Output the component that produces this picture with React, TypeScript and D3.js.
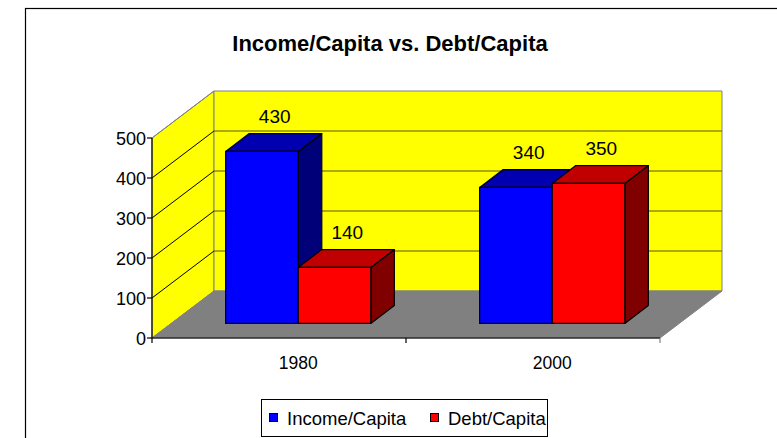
import React from "react";
import * as d3 from "d3";

const categories = ["1980", "2000"];
const seriesNames = ["Income/Capita", "Debt/Capita"];
const incomeValues = [430, 340];
const debtValues = [140, 350];
const yTicks = [0, 100, 200, 300, 400, 500];
const title = "Income/Capita vs. Debt/Capita";

const W = 777;
const H = 438;

export default function App() {
  const series = [incomeValues, debtValues];
  const faceColors = [
    { front: "#0000FF", top: "#0000B0", side: "#000078" },
    { front: "#FF0000", top: "#C00000", side: "#800000" },
  ];

  // front plane
  const x0 = 152, x1 = 660;
  const yBase = 338;
  const depth = { dx: 62, dy: -47 };
  const x = d3.scaleBand<string>().domain(categories).range([x0, x1]).paddingInner(0).paddingOuter(0);
  const xs = d3.scaleBand<string>().domain(seriesNames).range([0, x.bandwidth()]).paddingInner(0).paddingOuter(0.75);
  const y = d3.scaleLinear().domain([0, 500]).range([yBase, yBase - 200]);
  const zFront = 0.31, zBack = 0.69;
  const P = (px: number, py: number, z: number): [number, number] => [px + z * depth.dx, py + z * depth.dy];
  const pts = (arr: [number, number][]) => arr.map((p) => p.join(",")).join(" ");

  const yTop = y(500);
  const sideWall = pts([P(x0, yBase, 0), P(x0, yTop, 0), P(x0, yTop, 1), P(x0, yBase, 1)]);
  const backWall = pts([P(x0, yTop, 1), P(x1, yTop, 1), P(x1, yBase, 1), P(x0, yBase, 1)]);
  const floor = pts([P(x0, yBase, 0), P(x1, yBase, 0), P(x1, yBase, 1), P(x0, yBase, 1)]);

  const bars: React.ReactNode[] = [];
  const labels: React.ReactNode[] = [];
  categories.forEach((c, ci) => {
    seriesNames.forEach((s, si) => {
      const v = series[si][ci];
      const l = (x(c) as number) + (xs(s) as number);
      const r = l + xs.bandwidth();
      const t = y(v);
      const b = y(0);
      const col = faceColors[si];
      const front = pts([P(l, t, zFront), P(r, t, zFront), P(r, b, zFront), P(l, b, zFront)]);
      const top = pts([P(l, t, zFront), P(r, t, zFront), P(r, t, zBack), P(l, t, zBack)]);
      const side = pts([P(r, t, zFront), P(r, t, zBack), P(r, b, zBack), P(r, b, zFront)]);
      bars.push(
        <g key={c + s} stroke="#000" strokeWidth={1.2} strokeLinejoin="round">
          <polygon points={side} fill={col.side} />
          <polygon points={top} fill={col.top} />
          <polygon points={front} fill={col.front} />
        </g>
      );
      const [lx, ly] = P((l + r) / 2, t, (zFront + zBack) / 2);
      labels.push(
        <text key={"l" + c + s} x={lx + 1} y={ly - 20} textAnchor="middle" fontSize={19}>
          {v}
        </text>
      );
    });
  });

  return (
    <svg width={W} height={H} style={{ position: "absolute", left: 0, top: 0, fontFamily: "'Liberation Sans', Arial, sans-serif" }}>
      <rect x={0} y={0} width={W} height={H} fill="#fff" />
      <rect x={25.5} y={8.5} width={900} height={600} fill="#fff" stroke="#000" strokeWidth={1.2} />
      <text x={390} y={51} textAnchor="middle" fontSize={22} fontWeight="bold">
        {title}
      </text>

      {/* walls */}
      <polygon points={sideWall} fill="#FFFF00" stroke="#808080" strokeWidth={1} />
      <polygon points={backWall} fill="#FFFF00" stroke="#808080" strokeWidth={1} />
      {yTicks.slice(1, -1).map((t) => {
        const a = P(x0, y(t), 0), b = P(x0, y(t), 1), c = P(x1, y(t), 1);
        return (
          <g key={"g" + t}>
            <line x1={a[0]} y1={a[1]} x2={b[0]} y2={b[1]} stroke="#000" strokeWidth={1} />
            <line x1={b[0]} y1={b[1]} x2={c[0]} y2={c[1]} stroke="#5a5a00" strokeWidth={1.2} />
          </g>
        );
      })}
      {(() => {
        const a = P(x0, y(500), 0), b = P(x0, y(500), 1);
        return <line x1={a[0]} y1={a[1]} x2={b[0]} y2={b[1]} stroke="#808080" strokeWidth={1} />;
      })()}
      <polygon points={floor} fill="#808080" stroke="#808080" strokeWidth={1} />

      {/* axes */}
      <line x1={x0} y1={y(0)} x2={x0} y2={y(500)} stroke="#000" strokeWidth={1.2} />
      <line x1={x0} y1={yBase} x2={x1} y2={yBase} stroke="#000" strokeWidth={1.2} />
      {yTicks.map((t) => (
        <g key={"t" + t}>
          <line x1={x0 - 5} y1={y(t)} x2={x0} y2={y(t)} stroke="#000" strokeWidth={1.2} />
          <text x={x0 - 6} y={y(t) + 6.5} textAnchor="end" fontSize={18}>
            {t}
          </text>
        </g>
      ))}
      {[x0, ...categories.map((c) => (x(c) as number) + x.bandwidth())].map((tx, i) => (
        <line key={"ct" + i} x1={tx} y1={yBase} x2={tx} y2={yBase + 5} stroke={i === categories.length ? "#808080" : "#000"} strokeWidth={1.2} />
      ))}
      {categories.map((c) => {
        const [cx] = P((x(c) as number) + x.bandwidth() / 2, yBase, zFront);
        return (
          <text key={"c" + c} x={cx} y={369} textAnchor="middle" fontSize={17.5}>
            {c}
          </text>
        );
      })}

      {bars}
      {labels}

      {/* legend */}
      <rect x={261.5} y={399.5} width={286} height={37} fill="#fff" stroke="#000" strokeWidth={1} />
      {seriesNames.map((s, i) => {
        const lx = i === 0 ? 269 : 430;
        return (
          <g key={"lg" + s}>
            <rect x={lx + 0.5} y={413.5} width={8} height={8} fill={faceColors[i].front} stroke="#000" strokeWidth={1} />
            <text x={lx + 18} y={424.5} fontSize={18.5}>
              {s}
            </text>
          </g>
        );
      })}
    </svg>
  );
}
